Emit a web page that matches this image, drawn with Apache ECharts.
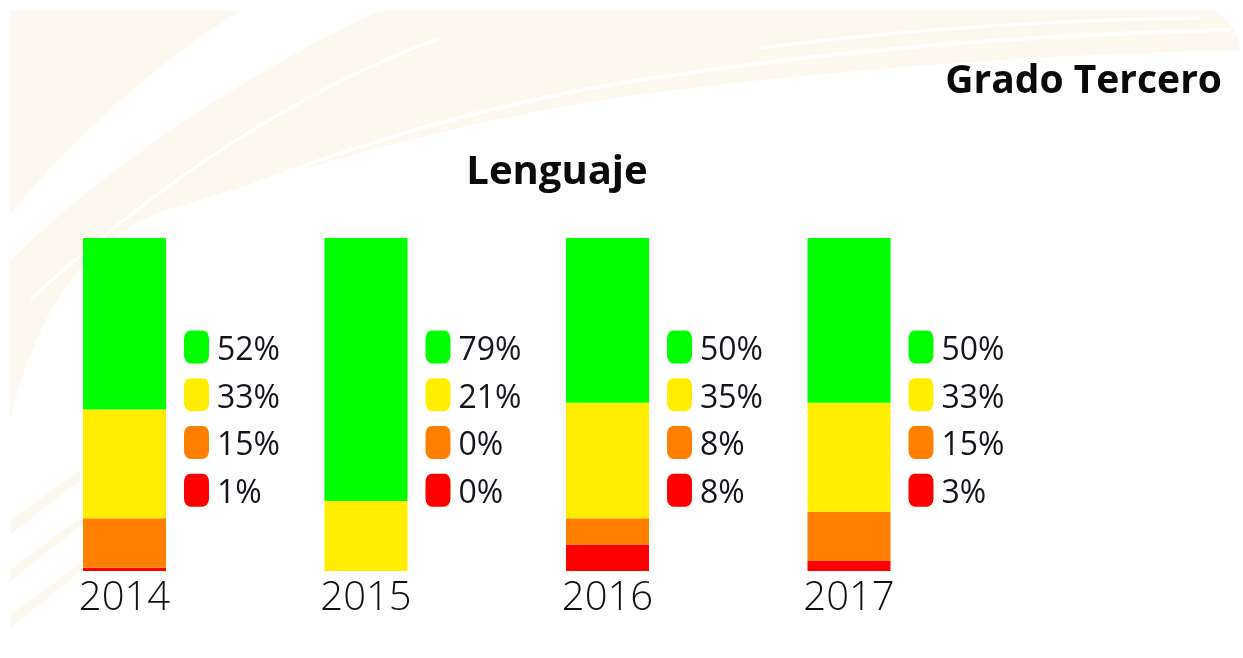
<!DOCTYPE html>
<html>
<head>
<meta charset="utf-8">
<script src="https://cdn.jsdelivr.net/npm/echarts@6/dist/echarts.min.js"></script>
<style>
  html, body { margin: 0; padding: 0; background: #fff; }
  #wrap { position: relative; width: 1243px; height: 658px; }
  #bg { position: absolute; left: 0; top: 0; }
  #chart { position: absolute; left: 0; top: 0; width: 1243px; height: 658px; }
</style>
</head>
<body>
<div id="wrap">
  <!-- decoracion de fondo (ondas crema) -->
  <svg id="bg" width="1243" height="658">
    <path d="M10,11 L1215,11 C1235,25 1240,40 1240,50 C1000,55 780,75 620,97 C480,118 330,158 158,213 C90,240 40,300 10,420 Z" fill="#fdf8ee"/>
    <path d="M240,11 L380,11 C250,70 100,170 10,262 L10,215 C70,140 160,60 240,11 Z" fill="#fff"/>
    <path d="M440,38 C300,90 160,180 30,300" stroke="#fff" stroke-width="3" fill="none"/>
    <path d="M1230,30 C1000,35 800,55 640,80 C480,105 330,150 180,215" stroke="#fff" stroke-width="4" fill="none"/>
    <path d="M1200,18 C1050,20 900,30 760,48" stroke="#fff" stroke-width="3" fill="none"/>
    <path d="M10,520 L80,470 L80,480 L10,535 Z M10,570 L90,510 L90,518 L10,582 Z M10,615 L100,548 L100,556 L10,628 Z" fill="#fdf8ee"/>
  </svg>
  <div id="chart"></div>
</div>
<script>
// datos (porcentajes por nivel de desempeño)
const years = ['2014', '2015', '2016', '2017'];
const avanzado = [52, 79, 50, 50];
const satisfactorio = [33, 21, 35, 33];
const minimo = [15, 0, 8, 15];
const insuficiente = [1, 0, 8, 3];

const levelNames = ['Avanzado', 'Satisfactorio', 'Mínimo', 'Insuficiente'];
const levelColors = ['#00FF00', '#FFEE00', '#FF8000', '#FF0000'];
const levels = [avanzado, satisfactorio, minimo, insuficiente];

// cada barra ocupa el 100% de la altura (los valores suman ~101)
const totals = years.map((y, k) => levels.reduce((s, arr) => s + arr[k], 0));

const labelFont = '"Open Sans", Lato, sans-serif';

// barras apiladas de abajo hacia arriba: insuficiente, minimo, satisfactorio, avanzado
const barSeries = [3, 2, 1, 0].map(i => ({
  name: levelNames[i],
  type: 'bar',
  stack: 'total',
  xAxisIndex: 0,
  yAxisIndex: 0,
  barWidth: 83,
  itemStyle: { color: levelColors[i] },
  data: levels[i].map((v, k) => v / totals[k] * 100),
  silent: true
}));

// leyenda por año: cuadro redondeado + porcentaje
const keySeries = levels.map((arr, i) => ({
  name: levelNames[i] + ' %',
  type: 'scatter',
  xAxisIndex: 1,
  yAxisIndex: 1,
  symbol: 'roundRect',
  symbolSize: [25, 33],
  itemStyle: { color: levelColors[i], opacity: 1 },
  label: {
    show: true,
    position: 'right',
    distance: 8,
    offset: [0, 4],
    formatter: p => p.data[2] + '%',
    color: '#14141c',
    fontFamily: labelFont,
    fontWeight: 'normal',
    fontSize: 32
  },
  data: arr.map((v, k) => [k, i, v]),
  silent: true
}));

const chart = echarts.init(document.getElementById('chart'));

chart.setOption({
  backgroundColor: 'transparent',
  animation: false,
  title: [
    {
      text: 'Grado Tercero',
      right: 16,
      top: 57,
      textStyle: { fontFamily: labelFont, fontWeight: 'bold', fontSize: 39, color: '#0a0a0a' }
    },
    {
      text: 'Lenguaje',
      left: 552,
      textAlign: 'center',
      top: 148,
      textStyle: { fontFamily: labelFont, fontWeight: 'bold', fontSize: 40, color: '#0a0a0a' }
    }
  ],
  grid: [
    { left: 3.75, width: 966, top: 238, height: 333 },
    { left: 75.75, width: 966, top: 323, height: 191 }
  ],
  xAxis: [
    {
      gridIndex: 0,
      type: 'category',
      data: years,
      axisLine: { show: false },
      axisTick: { show: false },
      axisLabel: {
        margin: 8,
        fontFamily: labelFont,
        fontWeight: 300,
        fontSize: 40,
        color: '#101018'
      }
    },
    {
      gridIndex: 1,
      type: 'category',
      data: years,
      show: false
    }
  ],
  yAxis: [
    { gridIndex: 0, type: 'value', min: 0, max: 100, show: false },
    { gridIndex: 1, type: 'value', min: -0.5, max: 3.5, inverse: true, show: false }
  ],
  series: barSeries.concat(keySeries)
});
</script>
</body>
</html>
